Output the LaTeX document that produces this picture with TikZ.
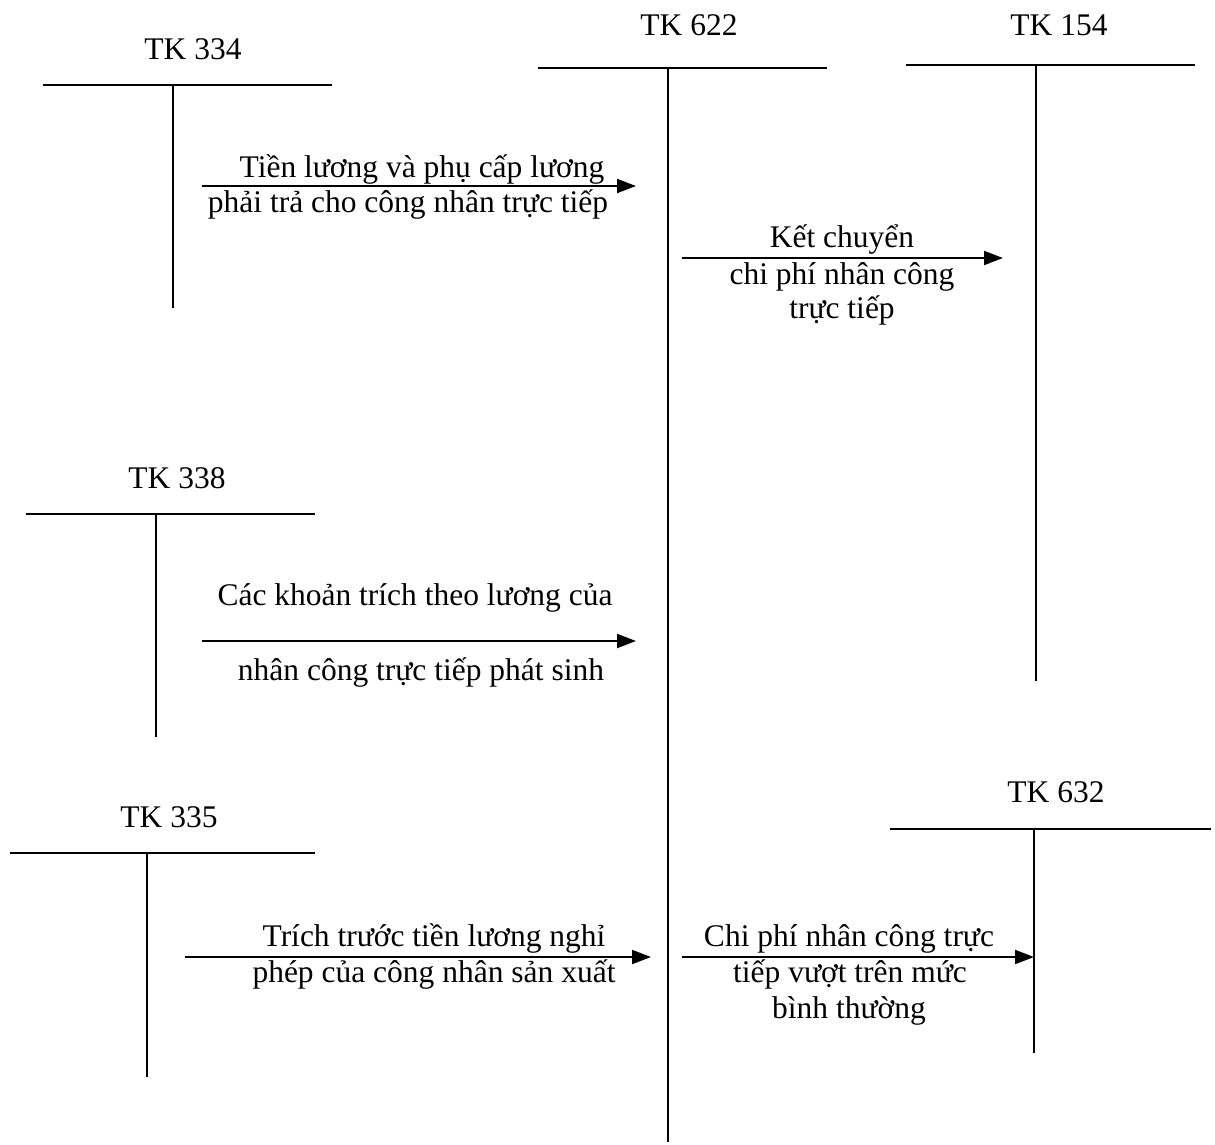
\documentclass[tikz,border=0pt]{standalone}
\usepackage{fontspec}
\setmainfont{Liberation Serif}
\usetikzlibrary{arrows.meta}
\begin{document}
\begin{tikzpicture}[x=1pt,y=-1pt,
  txt/.style={anchor=base,inner sep=0pt,font=\fontsize{31.5}{34}\selectfont},
  acct/.style={line width=2pt},
  flow/.style={line width=2pt,-{Triangle[length=19pt,width=14pt]}}]
\useasboundingbox (0,0) rectangle (1215,1144);
\fill[white] (0,0) rectangle (1215,1144);
% T-accounts
\node[txt] (t334) at (193,59) {TK 334};
\draw[acct] (43,85) -- (332,85);
\draw[acct] (173,85) -- (173,308);

\node[txt] (t622) at (689,35) {TK 622};
\draw[acct] (538,68) -- (827,68);
\draw[acct] (668,68) -- (668,1142);

\node[txt] (t154) at (1059,35) {TK 154};
\draw[acct] (906,65) -- (1195,65);
\draw[acct] (1036,65) -- (1036,681);

\node[txt] (t338) at (177,488) {TK 338};
\draw[acct] (26,514) -- (315,514);
\draw[acct] (156,514) -- (156,737);

\node[txt] (t335) at (169,827) {TK 335};
\draw[acct] (10,853) -- (315,853);
\draw[acct] (147,853) -- (147,1077);

\node[txt] (t632) at (1056,802) {TK 632};
\draw[acct] (890,829) -- (1211,829);
\draw[acct] (1034,829) -- (1034,1053);

% flows
\coordinate (a1s) at (202,186); \coordinate (a1e) at (636,186);
\draw[flow] (a1s) -- (a1e);
\node[txt] (l1a) at (422,177) {Tiền lương và phụ cấp lương};
\node[txt] (l1b) at (408,212) {phải trả cho công nhân trực tiếp};

\coordinate (a2s) at (682,258); \coordinate (a2e) at (1003,258);
\draw[flow] (a2s) -- (a2e);
\node[txt] (l2a) at (842,247) {Kết chuyển};
\node[txt] (l2b) at (842,284) {chi phí nhân công};
\node[txt] (l2c) at (842,318) {trực tiếp};

\coordinate (a3s) at (202,641); \coordinate (a3e) at (636,641);
\draw[flow] (a3s) -- (a3e);
\node[txt] (l3a) at (415,605) {Các khoản trích theo lương của};
\node[txt] (l3b) at (421,680) {nhân công trực tiếp phát sinh};

\coordinate (a4s) at (185,957); \coordinate (a4e) at (651,957);
\draw[flow] (a4s) -- (a4e);
\node[txt] (l4a) at (434,946) {Trích trước tiền lương nghỉ};
\node[txt] (l4b) at (434,982) {phép của công nhân sản xuất};

\coordinate (a5s) at (682,957); \coordinate (a5e) at (1034,957);
\draw[flow] (a5s) -- (a5e);
\node[txt] (l5a) at (849,946) {Chi phí nhân công trực};
\node[txt] (l5b) at (850,982) {tiếp vượt trên mức};
\node[txt] (l5c) at (849,1018) {bình thường};
\end{tikzpicture}
\end{document}
